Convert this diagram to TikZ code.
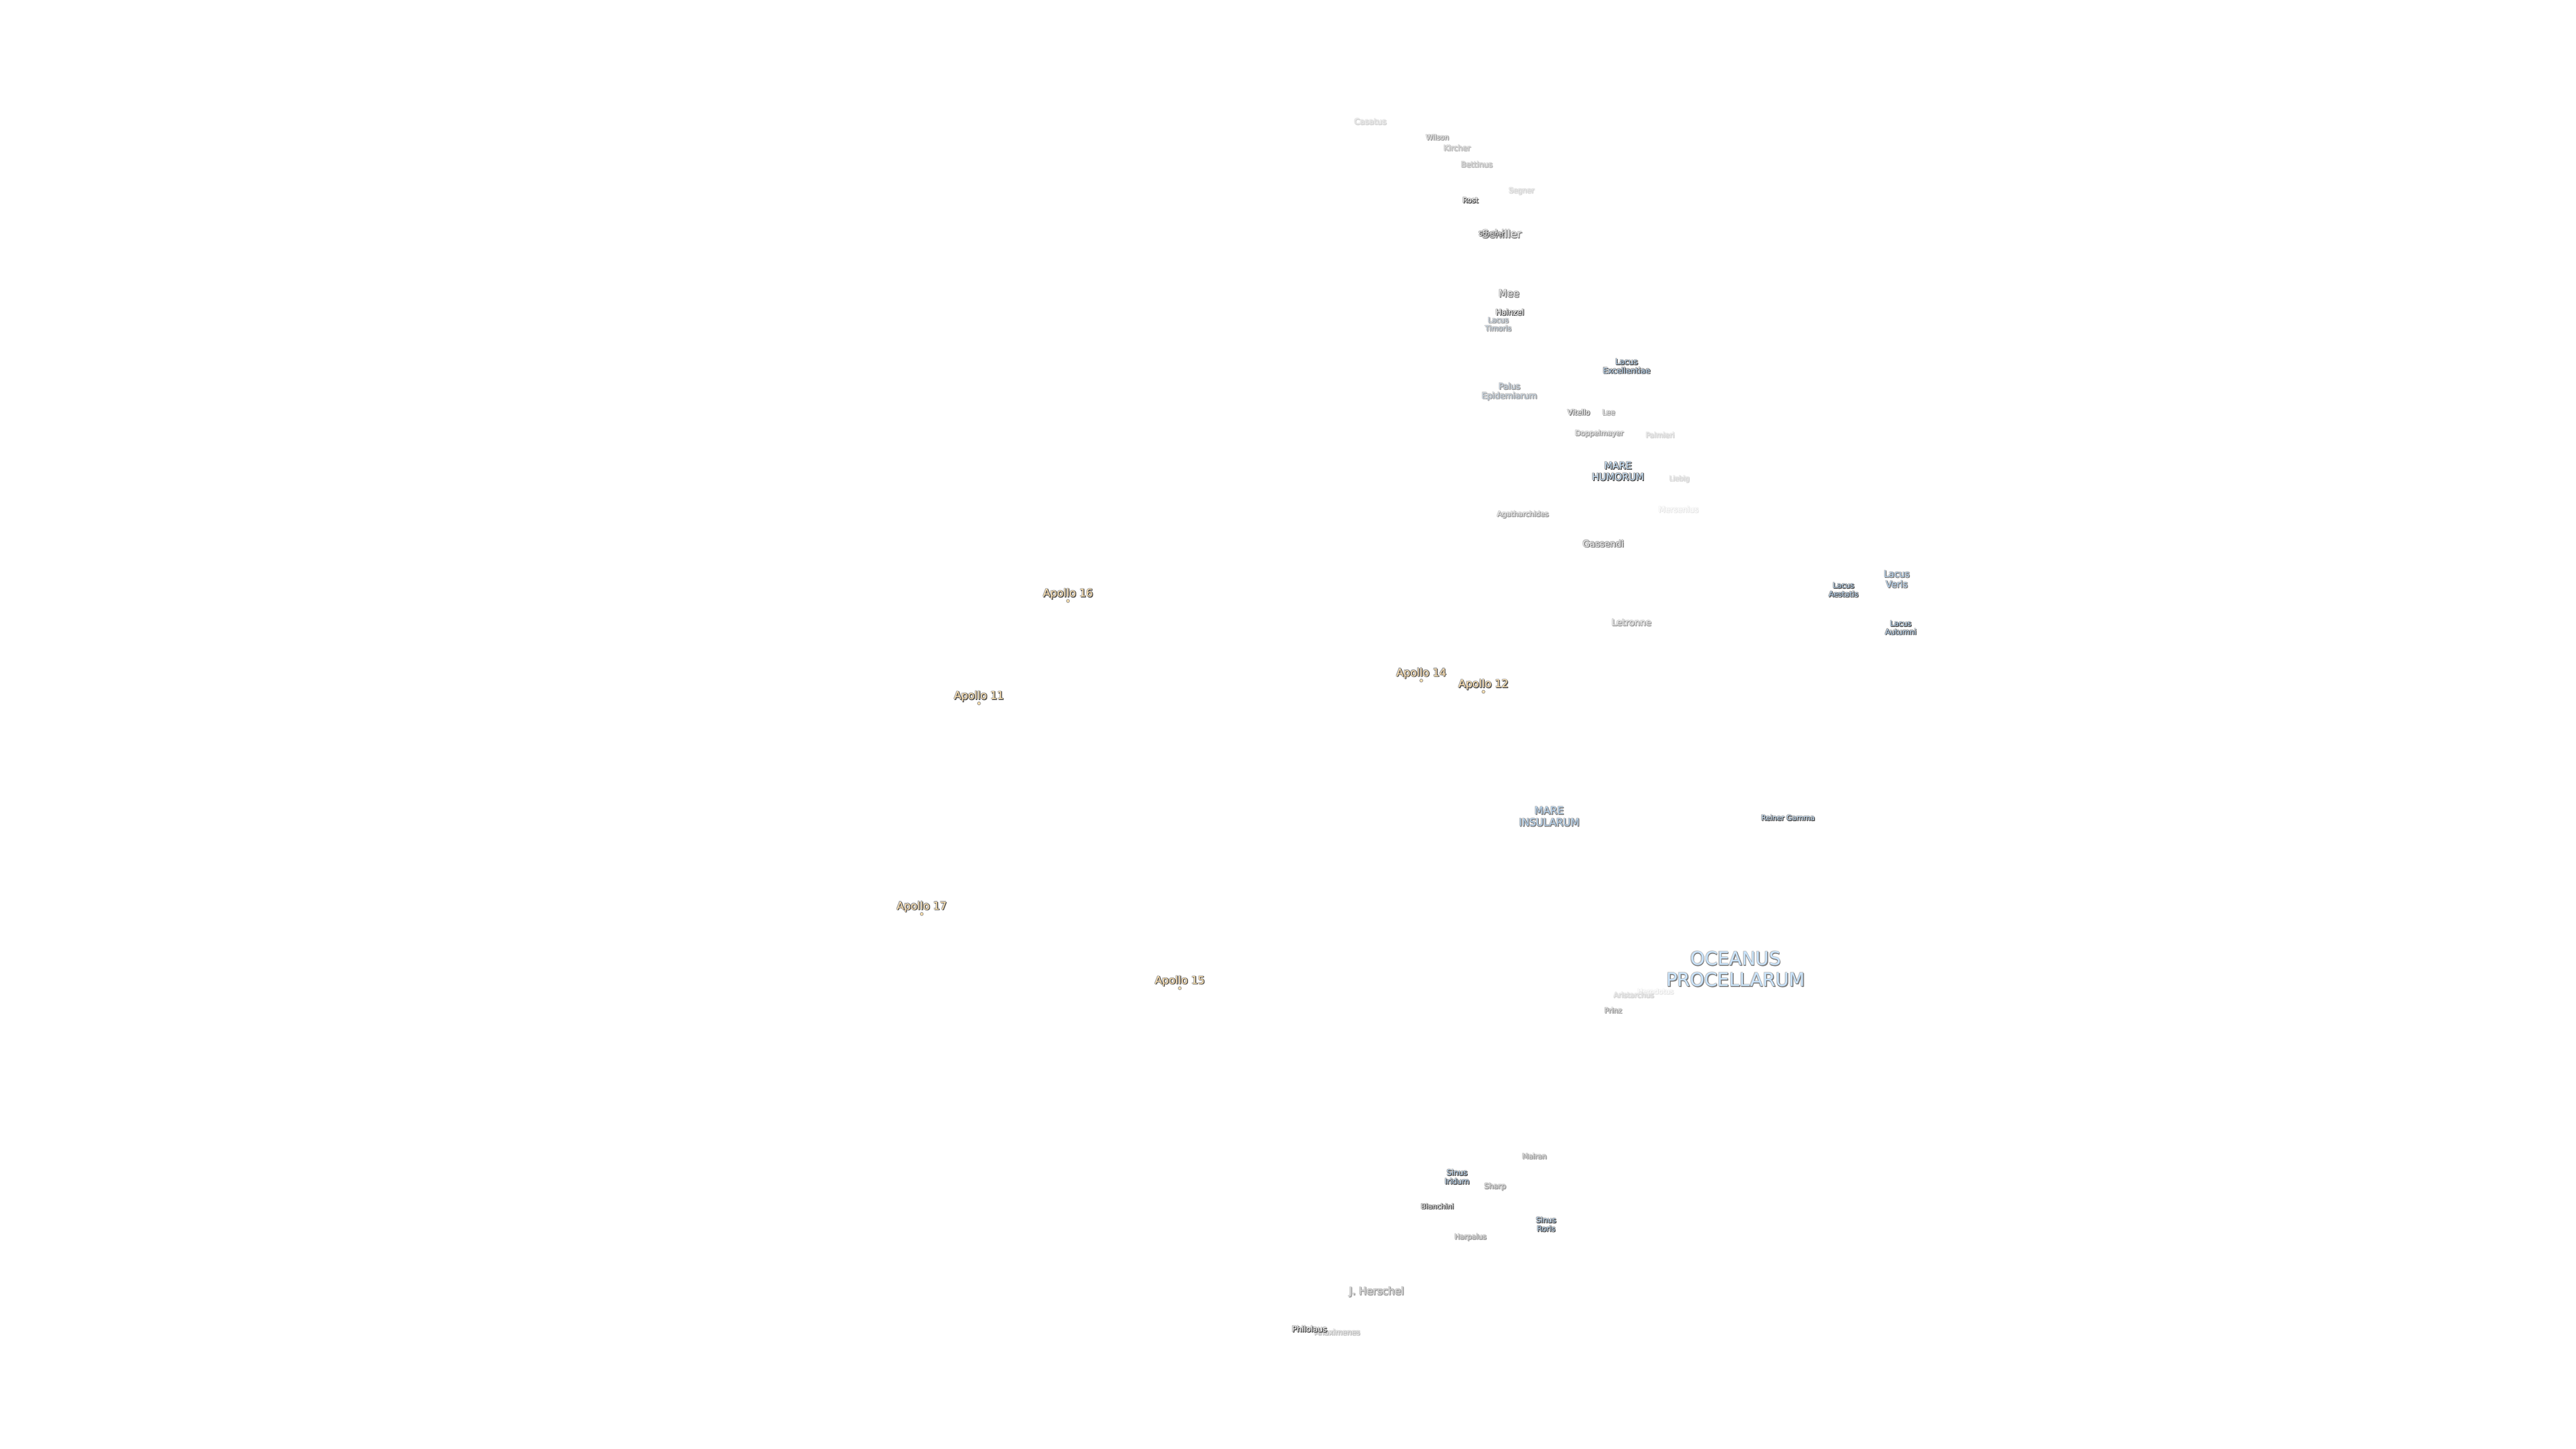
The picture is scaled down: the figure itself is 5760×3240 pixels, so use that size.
\documentclass[tikz,border=0pt]{standalone}
\usepackage{fontspec}
\setmainfont{DejaVu Sans}
\definecolor{marefill}{HTML}{C9E3FB}
\definecolor{lacusfill}{HTML}{B4D2EE}
\definecolor{palusfill}{HTML}{C4D2E0}
\definecolor{apollofill}{HTML}{FFE1B0}
\definecolor{craterA}{HTML}{FFFFFF}
\definecolor{craterB}{HTML}{EAEAEA}
\definecolor{edgeA}{HTML}{555555}
\definecolor{edgeB}{HTML}{808080}
\definecolor{edgeC}{HTML}{A0A0A0}
\definecolor{edgeD}{HTML}{BEBEBE}
\definecolor{edgeE}{HTML}{D6D6D6}
\definecolor{edgeF}{HTML}{E8E8E8}
\tikzset{
  moontext/.style={inner sep=0pt, align=center},
  landing/.style={circle, fill=apollofill, draw=edgeB, line width=0.1pt, inner sep=0pt, minimum size=0.7pt}
}
% name, position, size, fill, edge, text
\newcommand{\moonlabel}[6]{
  \pgfmathsetmacro{\moonlead}{#3*1.15}
  \foreach \dx/\dy/\k in {-0.14/0.14/a,-0.14/-0.05/b,0.05/0.14/c}
    \node [moontext, text=#5!50!white, font=\fontsize{#3}{\moonlead}\selectfont, xshift=\dx pt, yshift=\dy pt] (#1light\k) at (#2) {#6};
  \foreach \dx/\dy/\k in {0.2/-0.2/a,0.2/-0.05/b,0.05/-0.2/c}
    \node [moontext, text=#5, font=\fontsize{#3}{\moonlead}\selectfont, xshift=\dx pt, yshift=\dy pt] (#1dark\k) at (#2) {#6};
  \node [moontext, text=#4, font=\fontsize{#3}{\moonlead}\selectfont] (#1) at (#2) {#6};
}
\begin{document}
\begin{tikzpicture}[x=0.1pt,y=-0.1pt]
    \useasboundingbox (0,0) rectangle (5760,3240);
    % far side craters
    \moonlabel{casatus}{3064,272}{1.8}{edgeF}{edgeE}{Casatus}
    \moonlabel{wilson}{3214,307}{1.55}{craterB}{edgeC}{Wilson}
    \moonlabel{kircher}{3258,331}{1.7}{edgeE}{edgeD}{Kircher}
    \moonlabel{bettinus}{3302,368}{1.7}{edgeE}{edgeD}{Bettinus}
    \moonlabel{segner}{3402,427}{1.6}{edgeF}{edgeE}{Segner}
    \moonlabel{rost}{3288,448}{1.6}{craterA}{edgeA}{Rost}
    \moonlabel{schiller}{3358,523}{2.4}{craterB}{edgeB}{Schiller}
    \moonlabel{scheiner}{3335,522}{1.3}{craterA}{edgeA}{Scheiner}
    \moonlabel{mee}{3374,656}{2.2}{craterB}{edgeB}{Mee}
    \moonlabel{hainzel}{3376,698}{1.7}{craterA}{edgeA}{Hainzel}
    \moonlabel{timoris}{3350,725}{1.6}{palusfill}{edgeC}{Lacus\\Timoris}
    \moonlabel{excellentiae}{3637,819}{1.74}{lacusfill}{edgeA}{Lacus\\Excellentiae}
    \moonlabel{epidemiarum}{3375,876}{1.85}{palusfill}{edgeC}{Palus\\Epidemiarum}
    \moonlabel{vitello}{3530,922}{1.6}{craterA}{edgeB}{Vitello}
    \moonlabel{lee}{3597,922}{1.6}{craterB}{edgeC}{Lee}
    \moonlabel{doppelmayer}{3576,970}{1.6}{craterB}{edgeC}{Doppelmayer}
    \moonlabel{palmieri}{3712,973}{1.6}{edgeF}{edgeE}{Palmieri}
    \moonlabel{humorum}{3618,1054}{2.15}{marefill}{edgeA}{MARE\\HUMORUM}
    \moonlabel{liebig}{3755,1071}{1.5}{edgeF}{edgeE}{Liebig}
    \moonlabel{mersenius}{3753,1139}{1.75}{white}{edgeF}{Mersenius}
    \moonlabel{agatharchides}{3405,1151}{1.6}{craterB}{edgeC}{Agatharchides}
    \moonlabel{gassendi}{3585,1216}{2.0}{craterB}{edgeB}{Gassendi}
    \moonlabel{veris}{4241,1295}{2.0}{lacusfill}{edgeB}{Lacus\\Veris}
    \moonlabel{aestatis}{4122,1319}{1.65}{lacusfill}{edgeA}{Lacus\\Aestatis}
    \moonlabel{autumni}{4250,1404}{1.65}{lacusfill}{edgeA}{Lacus\\Autumni}
    \moonlabel{letronne}{3648,1392}{2.0}{craterB}{edgeC}{Letronne}
    % landing sites
    \moonlabel{apollo16}{2388,1328}{2.38}{apollofill}{edgeA}{Apollo 16}
    \node [landing] (site16) at (2388,1344) {};
    \moonlabel{apollo14}{3178,1506}{2.38}{apollofill}{edgeA}{Apollo 14}
    \node [landing] (site14) at (3178,1522) {};
    \moonlabel{apollo12}{3317,1531}{2.38}{apollofill}{edgeA}{Apollo 12}
    \node [landing] (site12) at (3317,1547) {};
    \moonlabel{apollo11}{2189,1557}{2.38}{apollofill}{edgeA}{Apollo 11}
    \node [landing] (site11) at (2189,1573) {};
    \moonlabel{apollo17}{2061,2028}{2.38}{apollofill}{edgeA}{Apollo 17}
    \node [landing] (site17) at (2061,2044) {};
    \moonlabel{apollo15}{2638,2194}{2.38}{apollofill}{edgeA}{Apollo 15}
    \node [landing] (site15) at (2638,2210) {};
    % maria
    \moonlabel{insularum}{3464,1826}{2.27}{lacusfill}{edgeB}{MARE\\INSULARUM}
    \moonlabel{reiner}{3998,1829}{1.6}{marefill}{edgeA}{Reiner Gamma}
    \moonlabel{procellarum}{3881,2167}{4.12}{marefill}{edgeB}{OCEANUS\\PROCELLARUM}
    \moonlabel{herodotus}{3702,2217}{1.56}{white}{edgeF}{Herodotus}
    \moonlabel{aristarchus}{3653,2225}{1.6}{edgeF}{edgeE}{Aristarchus}
    \moonlabel{prinz}{3607,2260}{1.6}{edgeE}{edgeC}{Prinz}
    % north
    \moonlabel{mairan}{3431,2586}{1.6}{edgeE}{edgeC}{Mairan}
    \moonlabel{iridum}{3258,2632}{1.7}{lacusfill}{edgeA}{Sinus\\Iridum}
    \moonlabel{sharp}{3343,2654}{1.65}{edgeE}{edgeC}{Sharp}
    \moonlabel{bianchini}{3214,2698}{1.6}{craterB}{edgeA}{Bianchini}
    \moonlabel{roris}{3457,2738}{1.65}{lacusfill}{edgeA}{Sinus\\Roris}
    \moonlabel{harpalus}{3288,2767}{1.6}{edgeE}{edgeC}{Harpalus}
    \moonlabel{herschel}{3078,2889}{2.3}{edgeE}{edgeC}{J. Herschel}
    \moonlabel{anaximenes}{2990,2979}{1.65}{edgeF}{edgeD}{Anaximenes}
    \moonlabel{philolaus}{2928,2972}{1.75}{craterA}{edgeA}{Philolaus}
\end{tikzpicture}
\end{document}
